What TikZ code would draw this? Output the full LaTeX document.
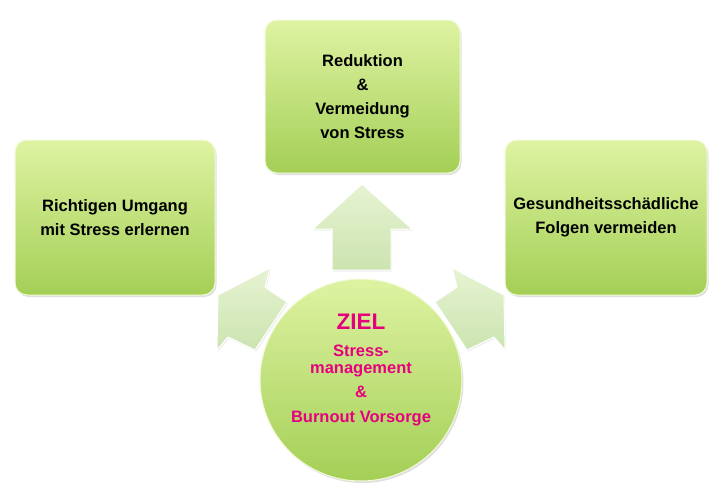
\documentclass[tikz,border=0pt]{standalone}
\usepackage{fontspec}
\setmainfont{Liberation Sans}
\usetikzlibrary{shadows}

\definecolor{boxtop}{RGB}{222,243,162}
\definecolor{boxbot}{RGB}{164,207,86}
\definecolor{arrtop}{RGB}{230,243,210}
\definecolor{arrbot}{RGB}{204,228,176}
\definecolor{zielpink}{RGB}{230,0,126}

\begin{document}
\begin{tikzpicture}[x=1pt,y=-1pt,every node/.style={font=\fontsize{16.5}{24}\selectfont\bfseries},
  greenbox/.style={rounded corners=12pt,top color=boxtop,bottom color=boxbot,draw=white!60!boxtop,line width=1pt,
    align=center,drop shadow={shadow xshift=1.5pt,shadow yshift=-2pt,opacity=0.25}},
  blockarrow/.style={top color=arrtop,bottom color=arrbot,draw=white,line width=1pt,
    drop shadow={shadow xshift=1pt,shadow yshift=-1.5pt,opacity=0.15}}]
\useasboundingbox (0,0) rectangle (720,498);
% block arrows from the centre
\draw[blockarrow] (362,184)--(412,229)--(391,229)--(391,270)--(332,270)--(332,229)--(313,229)--cycle;
\draw[blockarrow] (218,295)--(270,268)--(265,287)--(287,302)--(255,350)--(228,337)--(217,350)--cycle;
\draw[blockarrow] (504,295)--(452,268)--(457,287)--(435,302)--(467,350)--(494,337)--(505,350)--cycle;
% boxes
\node[greenbox,minimum width=200pt,minimum height=155pt] (lft) at (115,217.5) {Richtigen Umgang\\mit Stress erlernen};
\node[greenbox,minimum width=195pt,minimum height=153pt] (top) at (362.5,96.5) {Reduktion\\\&\\Vermeidung\\von Stress};
\node[greenbox,minimum width=202pt,minimum height=155pt] (rgt) at (606,217.5) {Gesundheitsschädliche\\Folgen vermeiden};
% goal
\node[circle,inner sep=0pt,minimum size=202pt,top color=boxtop,bottom color=boxbot,draw=white!60!boxtop,line width=1pt,
  drop shadow={shadow xshift=1.5pt,shadow yshift=-2pt,opacity=0.25}] (ziel) at (361,380) {};
\node[align=center,text=zielpink,font=\fontsize{16.5}{17}\selectfont\bfseries] (zieltxt) at ([yshift=10pt]ziel.center)
  {{\fontsize{22.5}{25}\selectfont ZIEL}\\[10pt]Stress-\\management\\[7pt]\&\\[8pt]Burnout Vorsorge};
\end{tikzpicture}
\end{document}
